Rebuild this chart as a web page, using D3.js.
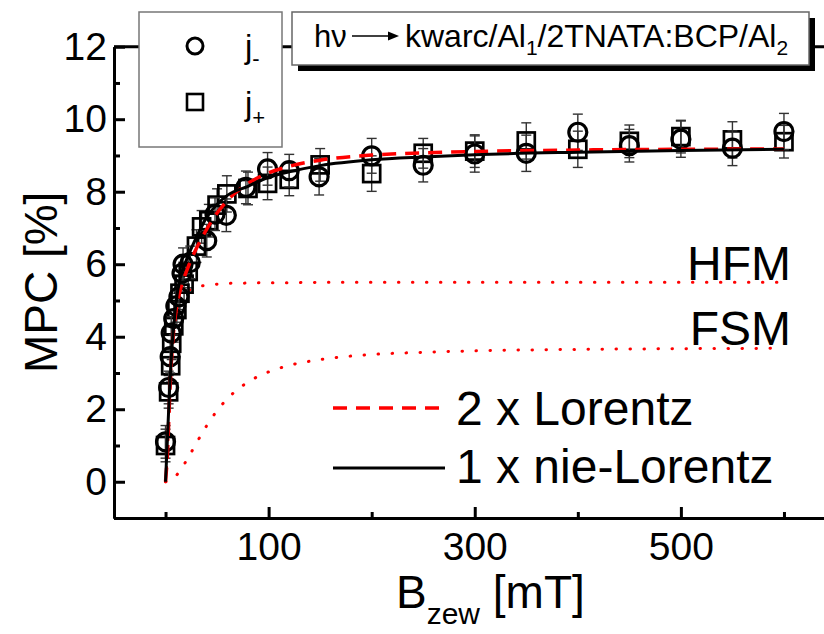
<!doctype HTML>
<html>
<head>
    <style>
        body { margin: 0; background: white; }
        text { font-family: "Liberation Sans", Arial, sans-serif; fill: black; }
    </style>
    <script src="https://d3js.org/d3.v7.min.js"></script>
</head>
<body>
<script>
    // j- (circles) and j+ (squares), MPC in %
    var jMinusB   = [0, 3, 4.5, 5.5, 8, 10, 13, 16, 17, 24, 40, 48, 59, 78, 99, 120, 149, 200, 250, 300, 350, 400, 450, 500, 550, 600];
    var jMinusMPC = [1.1, 2.6, 3.45, 4.1, 4.5, 4.85, 5.1, 5.75, 6.0, 6.05, 6.65, 7.38, 7.35, 8.12, 8.63, 8.58, 8.41, 8.99, 8.73, 9.04, 9.06, 9.64, 9.27, 9.45, 9.2, 9.66];
    var jMinusErr = [0.45, 0.45, 0.45, 0.45, 0.45, 0.45, 0.45, 0.45, 0.45, 0.45, 0.45, 0.45, 0.45, 0.45, 0.45, 0.45, 0.5, 0.48, 0.46, 0.5, 0.5, 0.5, 0.45, 0.5, 0.48, 0.5];

    var jPlusB   = [0, 3, 5, 6, 8, 11, 14, 18, 22, 30, 35, 42, 50, 59.5, 80, 99, 120, 150, 200, 250, 300, 350, 400, 450, 500, 550, 600];
    var jPlusMPC = [1.0, 2.48, 3.2, 3.82, 4.3, 4.75, 5.2, 5.45, 5.8, 6.5, 7.03, 7.2, 7.63, 7.94, 8.09, 8.23, 8.34, 8.74, 8.5, 9.06, 9.12, 9.4, 9.17, 9.39, 9.52, 9.43, 9.38];
    var jPlusErr = [0.45, 0.45, 0.45, 0.45, 0.45, 0.45, 0.45, 0.45, 0.45, 0.45, 0.45, 0.45, 0.45, 0.5, 0.45, 0.45, 0.45, 0.45, 0.49, 0.41, 0.45, 0.5, 0.5, 0.45, 0.45, 0.5, 0.45];

    // fitted curves
    var fitB        = [0, 2, 4, 6, 8, 10, 15, 20, 30, 40, 50, 60, 80, 100, 120, 150, 200, 250, 300, 400, 500, 600];
    var lorentz2    = [0, 0.86, 2.35, 3.47, 4.2, 4.67, 5.36, 5.78, 6.44, 6.97, 7.41, 7.76, 8.23, 8.52, 8.7, 8.87, 9.01, 9.07, 9.11, 9.15, 9.17, 9.18];
    var nonLorentz  = [0, 1.3, 2.6, 3.6, 4.3, 4.9, 5.7, 6.1, 6.75, 7.3, 7.65, 7.9, 8.15, 8.4, 8.55, 8.72, 8.88, 8.96, 9.02, 9.09, 9.14, 9.17];
    var hfm         = [0, 0.85, 2.32, 3.41, 4.09, 4.51, 5.01, 5.21, 5.37, 5.42, 5.45, 5.47, 5.48, 5.49, 5.49, 5.5, 5.5, 5.5, 5.5, 5.5, 5.5, 5.5];
    var fsm         = [0, 0.01, 0.03, 0.06, 0.11, 0.16, 0.35, 0.57, 1.07, 1.55, 1.96, 2.29, 2.75, 3.03, 3.21, 3.37, 3.51, 3.57, 3.61, 3.65, 3.67, 3.68];

    var xMajor = [100, 300, 500];
    var xMinor = [0, 200, 400, 600];
    var yMajor = [0, 2, 4, 6, 8, 10, 12];
    var yMinor = [-1, 1, 3, 5, 7, 9, 11];

    var svg = d3.select("body").append("svg")
        .attr("width", 824)
        .attr("height", 634);

    var x = d3.scaleLinear().domain([-50, 650]).range([114, 835.5]);
    var y = d3.scaleLinear().domain([-1, 12]).range([518, 46.7]);

    // axes (ticks pointing inward)
    var xMinG = svg.append("g").attr("transform", "translate(0,518)")
        .call(d3.axisBottom(x).tickValues(xMinor).tickSize(-6).tickSizeOuter(0).tickFormat(""));
    var xMajG = svg.append("g").attr("transform", "translate(0,518)")
        .call(d3.axisBottom(x).tickValues(xMajor).tickSize(-11).tickSizeOuter(0).tickPadding(14));
    var yMinG = svg.append("g").attr("transform", "translate(114,0)")
        .call(d3.axisLeft(y).tickValues(yMinor).tickSize(-6).tickSizeOuter(0).tickFormat(""));
    var yMajG = svg.append("g").attr("transform", "translate(114,0)")
        .call(d3.axisLeft(y).tickValues(yMajor).tickSize(-11).tickSizeOuter(0).tickPadding(7));

    svg.selectAll(".domain, .tick line").attr("stroke", "black").attr("stroke-width", 3);
    xMajG.selectAll("text").attr("font-size", "39px");
    yMajG.selectAll("text").attr("font-size", "39px");

    // top frame line
    svg.append("line")
        .attr("x1", 114).attr("x2", 824)
        .attr("y1", y(12)).attr("y2", y(12))
        .attr("stroke", "black").attr("stroke-width", 3);

    // axis titles
    svg.append("text")
        .attr("transform", "translate(57," + y(5.5) + ") rotate(-90)")
        .attr("text-anchor", "middle")
        .attr("font-size", "46px")
        .text("MPC [%]");

    var xt = svg.append("text")
        .attr("x", 396).attr("y", 608)
        .attr("font-size", "46px");
    xt.append("tspan").text("B");
    xt.append("tspan").attr("font-size", "30px").attr("dy", 16).text("zew");
    xt.append("tspan").attr("dy", -16).text(" [mT]");

    // component curves (dotted)
    var line = d3.line()
        .x(function(d) { return x(d[0]); })
        .y(function(d) { return y(d[1]); })
        .curve(d3.curveMonotoneX);

    var hfmPts = d3.zip(fitB, hfm);
    var fsmPts = d3.zip(fitB, fsm);
    [hfmPts, fsmPts].forEach(function(pts) {
        svg.append("path")
            .attr("d", line(pts))
            .attr("fill", "none")
            .attr("stroke", "#ff0000")
            .attr("stroke-width", 3)
            .attr("stroke-linecap", "round")
            .attr("stroke-dasharray", "0.5,13.5");
    });

    // error bars and markers
    function drawSeries(bs, vals, errs, shape) {
        var pts = d3.zip(bs, vals, errs);
        var g = svg.append("g");
        pts.forEach(function(d) {
            var cx = x(d[0]);
            g.append("line").attr("x1", cx).attr("x2", cx)
                .attr("y1", y(d[1] + d[2])).attr("y2", y(d[1] - d[2]))
                .attr("stroke", "#333").attr("stroke-width", 1.4);
            [d[1] + d[2], d[1] - d[2]].forEach(function(v) {
                g.append("line").attr("x1", cx - 5).attr("x2", cx + 5)
                    .attr("y1", y(v)).attr("y2", y(v))
                    .attr("stroke", "#333").attr("stroke-width", 1.4);
            });
        });
        if (shape == "square") {
            g.selectAll("rect").data(pts).enter().append("rect")
                .attr("x", function(d) { return x(d[0]) - 8.5; })
                .attr("y", function(d) { return y(d[1]) - 8.5; })
                .attr("width", 17).attr("height", 17)
                .attr("fill", "none")
                .attr("stroke", "black").attr("stroke-width", 2.7);
        } else {
            g.selectAll("circle").data(pts).enter().append("circle")
                .attr("cx", function(d) { return x(d[0]); })
                .attr("cy", function(d) { return y(d[1]); })
                .attr("r", 9)
                .attr("fill", "none")
                .attr("stroke", "black").attr("stroke-width", 3.2);
        }
    }
    drawSeries(jPlusB, jPlusMPC, jPlusErr, "square");
    drawSeries(jMinusB, jMinusMPC, jMinusErr, "circle");

    // fits
    svg.append("path")
        .attr("d", line(d3.zip(fitB, lorentz2)))
        .attr("fill", "none")
        .attr("stroke", "#ff0000")
        .attr("stroke-width", 3.5)
        .attr("stroke-dasharray", "14,9");
    svg.append("path")
        .attr("d", line(d3.zip(fitB, nonLorentz)))
        .attr("fill", "none")
        .attr("stroke", "black")
        .attr("stroke-width", 3);

    // HFM / FSM labels
    svg.append("text").attr("x", 791).attr("y", y(5.5) - 2)
        .attr("text-anchor", "end").attr("font-size", "48px").text("HFM");
    svg.append("text").attr("x", 791).attr("y", y(3.7) - 3)
        .attr("text-anchor", "end").attr("font-size", "48px").text("FSM");

    // legend of fits
    svg.append("line").attr("x1", 333).attr("x2", 445).attr("y1", 408).attr("y2", 408)
        .attr("stroke", "#ff0000").attr("stroke-width", 3.5).attr("stroke-dasharray", "14,9");
    svg.append("text").attr("x", 456).attr("y", 425).attr("font-size", "48px").text("2 x Lorentz");
    svg.append("line").attr("x1", 333).attr("x2", 445).attr("y1", 468).attr("y2", 468)
        .attr("stroke", "black").attr("stroke-width", 3);
    svg.append("text").attr("x", 456).attr("y", 483).attr("font-size", "48px").text("1 x nie-Lorentz");

    // legend of symbols
    svg.append("rect").attr("x", 139).attr("y", 12).attr("width", 143).attr("height", 135)
        .attr("fill", "white").attr("stroke", "#777").attr("stroke-width", 1.5);
    svg.append("circle").attr("cx", 195).attr("cy", 46).attr("r", 8)
        .attr("fill", "none").attr("stroke", "black").attr("stroke-width", 3);
    svg.append("rect").attr("x", 187).attr("y", 94).attr("width", 16).attr("height", 16)
        .attr("fill", "none").attr("stroke", "black").attr("stroke-width", 2.6);
    var l1 = svg.append("text").attr("x", 245).attr("y", 58).attr("font-size", "33px");
    l1.append("tspan").text("j");
    l1.append("tspan").attr("font-size", "22px").attr("dy", 8).text("-");
    var l2 = svg.append("text").attr("x", 245).attr("y", 115).attr("font-size", "33px");
    l2.append("tspan").text("j");
    l2.append("tspan").attr("font-size", "22px").attr("dy", 10).text("+");

    // title box with shadow
    svg.append("rect").attr("x", 298).attr("y", 18).attr("width", 517).attr("height", 53).attr("fill", "black");
    svg.append("rect").attr("x", 292).attr("y", 12).attr("width", 517).attr("height", 53)
        .attr("fill", "white").attr("stroke", "#666").attr("stroke-width", 1.5);
    svg.append("text").attr("x", 314).attr("y", 47).attr("font-size", "31px").text("h\u03bd");
    svg.append("line").attr("x1", 352).attr("x2", 390).attr("y1", 36).attr("y2", 36)
        .attr("stroke", "black").attr("stroke-width", 1.5);
    svg.append("path").attr("d", "M388,31.5 L399,36 L388,40.5 Z").attr("fill", "black");
    var tt = svg.append("text").attr("x", 405).attr("y", 47).attr("font-size", "32px");
    tt.append("tspan").text("kwarc/Al");
    tt.append("tspan").attr("font-size", "21px").attr("dy", 8).text("1");
    tt.append("tspan").attr("dy", -8).text("/2TNATA:BCP/Al");
    tt.append("tspan").attr("font-size", "21px").attr("dy", 8).text("2");
</script>
</body>
</html>
